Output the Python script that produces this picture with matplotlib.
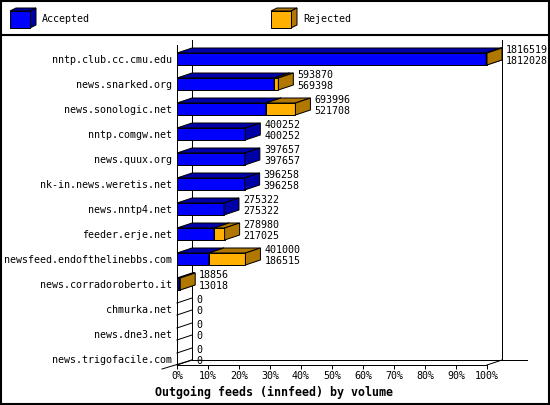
import numpy as np
import matplotlib
matplotlib.use("Agg")
import matplotlib.pyplot as plt
from matplotlib.patches import Polygon, Rectangle

plt.rcParams['font.family'] = ['DejaVu Sans Mono']

# 数据
hosts = ["nntp.club.cc.cmu.edu", "news.snarked.org", "news.sonologic.net",
         "nntp.comgw.net", "news.quux.org", "nk-in.news.weretis.net",
         "news.nntp4.net", "feeder.erje.net", "newsfeed.endofthelinebbs.com",
         "news.corradoroberto.it", "chmurka.net", "news.dne3.net",
         "news.trigofacile.com"]
offered = np.array([1816519, 593870, 693996, 400252, 397657, 396258, 275322,
                    278980, 401000, 18856, 0, 0, 0])
accepted = np.array([1812028, 569398, 521708, 400252, 397657, 396258, 275322,
                     217025, 186515, 13018, 0, 0, 0])
pct_ticks = np.arange(0, 101, 10)
tick_labels = [f"{t}%" for t in pct_ticks]
title = "Outgoing feeds (innfeed) by volume"

# 颜色
BLUE, BLUE_DARK = "#0000ff", "#0000a8"
ORANGE, ORANGE_DARK = "#ffb000", "#b07800"

W, H, DPI = 550, 405, 100
fig = plt.figure(figsize=(W / DPI, H / DPI), dpi=DPI)

# 前平面 (像素)
X0, X1 = 177, 487
ROW0, ROWSTEP = 59, 25
YTOP, YBOT = 45, 365
DEPTH_X, DEPTH_Y = 15, 5
LW = 0.72

ax = fig.add_axes([X0 / W, (H - YBOT) / H, (X1 - X0) / W, (YBOT - YTOP) / H])
ytop = (YTOP - ROW0) / ROWSTEP
ybot = (YBOT - ROW0) / ROWSTEP
ax.set_xlim(0, 100)
ax.set_ylim(ybot, ytop)
ax.patch.set_visible(False)

dx = DEPTH_X * 100 / (X1 - X0)
dy = -DEPTH_Y / ROWSTEP
half = 6 / ROWSTEP

for s in ["top", "right"]:
    ax.spines[s].set_visible(False)
for s in ["left", "bottom"]:
    ax.spines[s].set_linewidth(LW)
    ax.spines[s].set_zorder(3)

ax.set_xticks(pct_ticks)
ax.set_xticklabels(tick_labels)
ax.set_yticks(np.arange(len(hosts)))
ax.set_yticklabels(hosts)
ax.tick_params(axis="x", direction="out", length=2.88, width=LW, labelsize=7.2, pad=1.5)
ax.tick_params(axis="y", length=0, labelsize=7.2, pad=3.6)

# 背景墙
line_kw = dict(color="black", lw=LW, zorder=0.5, clip_on=False)
ax.plot([dx, dx], [ytop + dy, ybot + dy], **line_kw)
ax.plot([100 + dx, 100 + dx], [ytop + dy, ybot + dy], **line_kw)
ax.plot([dx, 100 + dx + 25 * 100 / (X1 - X0)], [ybot + dy, ybot + dy], **line_kw)
ax.plot([100, 100 + dx], [ybot, ybot + dy], **line_kw)
ax.plot([-dx, dx], [ybot - dy * 0.8, ybot + dy], **line_kw)


def box(y, x0, x1, front, dark):
    top, bot = y - half, y + half
    faces = [
        ([(x0, top), (x1, top), (x1, bot), (x0, bot)], front),
        ([(x0, top), (x0 + dx, top + dy), (x1 + dx, top + dy), (x1, top)], dark),
        ([(x1, top), (x1 + dx, top + dy), (x1 + dx, bot + dy), (x1, bot)], dark),
    ]
    for pts, c in faces:
        ax.add_patch(Polygon(pts, closed=True, fc=c, ec="black", lw=LW,
                             clip_on=False, zorder=2, joinstyle="miter"))


scale = 100 / offered.max()
for i in range(len(hosts)):
    a = accepted[i] * scale
    o = offered[i] * scale
    if o == 0:
        # 空条: 只画上下两条斜线
        for yy in (i - half, i + half):
            ax.plot([0, dx], [yy, yy + dy], color="black", lw=LW, zorder=2, clip_on=False)
    else:
        box(i, 0, a, BLUE, BLUE_DARK)
        if o > a:
            box(i, a, o, ORANGE, ORANGE_DARK)
    xr = max(a, o) + dx
    ax.annotate(str(offered[i]), (xr, i), xytext=(4, 9), textcoords="offset pixels",
                ha="left", va="center", fontsize=7.2, annotation_clip=False)
    ax.annotate(str(accepted[i]), (xr, i), xytext=(4, -2), textcoords="offset pixels",
                ha="left", va="center", fontsize=7.2, annotation_clip=False)

# 外框和图例
deco = fig.add_axes([0, 0, 1, 1], zorder=-1)
deco.set_xlim(0, W)
deco.set_ylim(H, 0)
deco.axis("off")
deco.add_patch(Rectangle((0.5, 0.5), W - 1.5, H - 1.5, fill=False, ec="black", lw=1.5))
deco.plot([0, W], [35, 35], color="black", lw=1.5)


def legend_cube(x, y, front, dark, label):
    w, h, ddx, ddy = 20, 17, 6, 3
    deco.add_patch(Polygon([(x, y), (x + ddx, y - ddy), (x + w + ddx, y - ddy), (x + w, y)],
                           fc=dark, ec="black", lw=LW))
    deco.add_patch(Polygon([(x + w, y), (x + w + ddx, y - ddy), (x + w + ddx, y + h - ddy), (x + w, y + h)],
                           fc=dark, ec="black", lw=LW))
    deco.add_patch(Rectangle((x, y), w, h, fc=front, ec="black", lw=LW))
    deco.text(x + w + 12, y + h / 2, label, ha="left", va="center", fontsize=7.2)


legend_cube(10, 11, BLUE, BLUE_DARK, "Accepted")
legend_cube(271, 11, ORANGE, ORANGE_DARK, "Rejected")

deco.text(155, 392, title, ha="left", va="center", fontsize=8.4, fontweight="bold")

fig.savefig("out.png", dpi=DPI)
